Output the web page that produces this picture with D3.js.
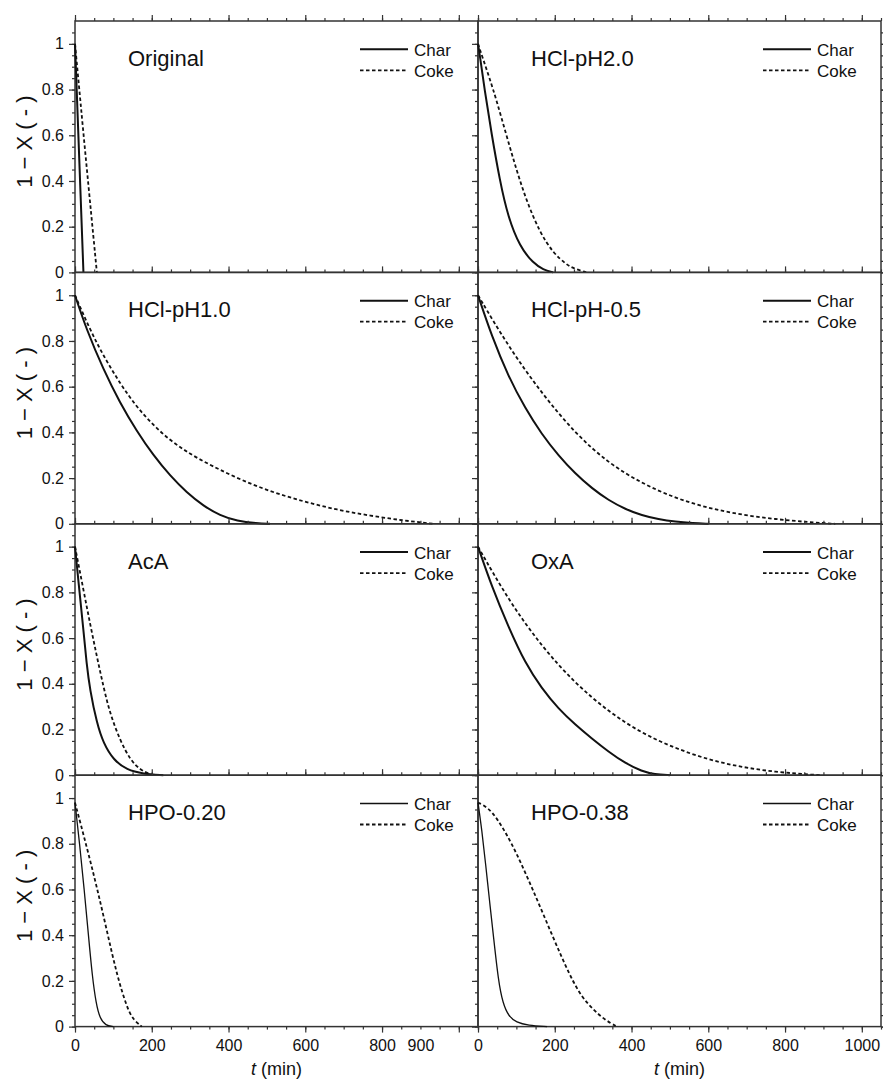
<!DOCTYPE html>
<html>
<head>
<meta charset="utf-8">
<script src="https://cdn.jsdelivr.net/npm/d3@7"></script>
<style>
  body { margin: 0; background: #fff; }
  svg { font-family: "Liberation Sans", Arial, sans-serif; }
</style>
</head>
<body>
<script>
// panel titles, row by row (left, right)
const panelNames = ["Original", "HCl-pH2.0", "HCl-pH1.0", "HCl-pH-0.5", "AcA", "OxA", "HPO-0.20", "HPO-0.38"]
const seriesNames = ["Char", "Coke"]

// [t (min), 1 - X]
const originalChar = [[0, 1], [11, 0.5], [22, 0]]
const originalCoke = [[0, 1], [28, 0.5], [57, 0]]

const ph20Char = [[0, 1], [4, 0.96], [17, 0.8], [35, 0.61], [57, 0.40], [78, 0.244], [109, 0.112], [144, 0.04], [170, 0.012], [196, 0]]
const ph20Coke = [[0, 1], [13, 0.935], [30, 0.85], [48, 0.755], [74, 0.6], [100, 0.45], [126, 0.315], [161, 0.175], [196, 0.085], [230, 0.035], [248, 0.018], [283, 0]]

const ph10Char = [[0, 1], [30, 0.85], [74, 0.675], [117, 0.53], [161, 0.405], [204, 0.3], [248, 0.21], [291, 0.137], [335, 0.078], [378, 0.036], [422, 0.012], [474, 0.002], [508, 0]]
const ph10Coke = [[0, 1], [39, 0.85], [74, 0.735], [117, 0.615], [161, 0.51], [205, 0.43], [248, 0.365], [291, 0.315], [335, 0.272], [422, 0.199], [509, 0.141], [596, 0.097], [683, 0.061], [770, 0.035], [857, 0.014], [935, 0]]

const phm05Char = [[0, 1], [36, 0.82], [79, 0.645], [123, 0.505], [166, 0.392], [210, 0.298], [253, 0.22], [297, 0.155], [340, 0.103], [384, 0.064], [427, 0.037], [470, 0.02], [514, 0.009], [560, 0.003], [601, 0]]
const phm05Coke = [[0, 1], [79, 0.776], [166, 0.571], [253, 0.396], [340, 0.265], [427, 0.177], [514, 0.112], [601, 0.068], [688, 0.039], [775, 0.020], [862, 0.007], [931, 0]]

const acaChar = [[0, 1], [13, 0.781], [22, 0.636], [30, 0.49], [39, 0.373], [57, 0.227], [74, 0.140], [100, 0.067], [135, 0.023], [178, 0.006], [230, 0]]
const acaCoke = [[0, 1], [22, 0.811], [39, 0.665], [57, 0.519], [74, 0.388], [91, 0.271], [117, 0.154], [144, 0.067], [170, 0.023], [196, 0.004], [204, 0]]

const oxaChar = [[0, 1], [36, 0.825], [79, 0.65], [123, 0.49], [166, 0.38], [210, 0.29], [253, 0.222], [297, 0.16], [340, 0.103], [384, 0.052], [427, 0.017], [460, 0.004], [500, 0]]
const oxaCoke = [[0, 1], [79, 0.767], [166, 0.563], [253, 0.402], [340, 0.278], [427, 0.183], [514, 0.118], [601, 0.067], [688, 0.035], [775, 0.014], [862, 0.003], [896, 0]]

const hpo20Char = [[0, 0.98], [12, 0.8], [24, 0.6], [35, 0.4], [45, 0.22], [55, 0.1], [65, 0.035], [80, 0.004], [100, 0]]
const hpo20Coke = [[0, 0.98], [30, 0.79], [57, 0.61], [83, 0.42], [110, 0.22], [136, 0.08], [152, 0.03], [174, 0]]

const hpo38Char = [[0, 0.98], [10, 0.86], [20, 0.71], [30, 0.55], [40, 0.4], [53, 0.2], [65, 0.1], [80, 0.045], [100, 0.018], [130, 0.005], [180, 0]]
const hpo38Coke = [[0, 0.98], [25, 0.96], [50, 0.91], [75, 0.84], [100, 0.76], [143, 0.6], [193, 0.4], [240, 0.22], [270, 0.13], [300, 0.075], [330, 0.03], [362, 0]]

const charData = [originalChar, ph20Char, ph10Char, phm05Char, acaChar, oxaChar, hpo20Char, hpo38Char]
const cokeData = [originalCoke, ph20Coke, ph10Coke, phm05Coke, acaCoke, oxaCoke, hpo20Coke, hpo38Coke]

// tick labels
const yTickLabels = [0, 0.2, 0.4, 0.6, 0.8, 1]
const xTickLabelsLeft = [0, 200, 400, 600, 800, 900]
const xTickLabelsRight = [0, 200, 400, 600, 800, 1000]

const width = 883, height = 1082
let colX = [75, 478],
    plotW = 403,
    top0 = 21,
    rowH = 251.4;

let svg = d3.select("body")
    .append("svg")
    .attr("width", width)
    .attr("height", height)

let yMinor = d3.range(0, 1.1, 0.05).map(d => +d.toFixed(2))
let xMinor = d3.range(0, 1051, 50)
let xMajor = d3.range(0, 1001, 200)

let line = d3.line().curve(d3.curveBasis)

function styleAxis(g) {
    g.select(".domain").remove()
    g.selectAll(".tick line").attr("stroke", "#333").attr("stroke-width", 1.2)
    g.selectAll(".tick text").attr("fill", "#111").attr("font-size", 16)
}

panelNames.forEach((name, i) => {
    let col = i % 2, row = Math.floor(i / 2)
    let left = colX[col], top = top0 + row * rowH, bottom = top + rowH

    let x = d3.scaleLinear().domain([0, 1050]).range([left, left + plotW])
    let y = d3.scaleLinear().domain([0, 1.1]).range([bottom, top])

    let g = svg.append("g")

    // left axis
    g.append("g").attr("transform", `translate(${left},0)`)
        .call(d3.axisLeft(y).tickValues(yMinor).tickSize(3).tickFormat(""))
        .call(styleAxis)
    g.append("g").attr("transform", `translate(${left},0)`)
        .call(d3.axisLeft(y).tickValues(yTickLabels).tickSize(6).tickPadding(5)
            .tickFormat(col == 0 ? d3.format("~g") : ""))
        .call(styleAxis)

    // right axis only on the right column
    if (col == 1) {
        g.append("g").attr("transform", `translate(${left + plotW},0)`)
            .call(d3.axisRight(y).tickValues(yMinor).tickSize(3).tickFormat(""))
            .call(styleAxis)
        g.append("g").attr("transform", `translate(${left + plotW},0)`)
            .call(d3.axisRight(y).tickValues(yTickLabels).tickSize(6).tickFormat(""))
            .call(styleAxis)
    }

    // top ticks, pointing up
    g.append("g").attr("transform", `translate(0,${top})`)
        .call(d3.axisTop(x).tickValues(xMinor).tickSize(3).tickFormat(""))
        .call(styleAxis)
    g.append("g").attr("transform", `translate(0,${top})`)
        .call(d3.axisTop(x).tickValues(xMajor).tickSize(6).tickFormat(""))
        .call(styleAxis)

    // bottom row gets the labelled axis
    if (row == 3) {
        g.append("g").attr("transform", `translate(0,${bottom})`)
            .call(d3.axisBottom(x).tickValues(xMinor).tickSize(3).tickFormat(""))
            .call(styleAxis)
        g.append("g").attr("transform", `translate(0,${bottom})`)
            .call(d3.axisBottom(x).tickValues(xMajor).tickSize(6).tickFormat(""))
            .call(styleAxis)
        g.append("g").attr("transform", `translate(0,${bottom})`)
            .call(d3.axisBottom(x).tickValues(col == 0 ? xTickLabelsLeft : xTickLabelsRight)
                .tickSize(0).tickPadding(13).tickFormat(d3.format("d")))
            .call(styleAxis)

        let xt = g.append("text")
            .attr("x", left + plotW / 2)
            .attr("y", 1075)
            .attr("text-anchor", "middle")
            .attr("font-size", 18)
            .attr("fill", "#111")
        xt.append("tspan").attr("font-style", "italic").text("t")
        xt.append("tspan").text(" (min)")
    }

    // frame
    g.append("rect")
        .attr("x", left).attr("y", top)
        .attr("width", plotW).attr("height", rowH)
        .attr("fill", "none")
        .attr("stroke", "#333")
        .attr("stroke-width", 1.5)

    // curves
    let charW = row == 3 ? 1.3 : 2
    g.append("path")
        .attr("d", line(charData[i].map(d => [x(d[0]), y(d[1])])))
        .attr("fill", "none")
        .attr("stroke", "#111")
        .attr("stroke-width", charW)
    g.append("path")
        .attr("d", line(cokeData[i].map(d => [x(d[0]), y(d[1])])))
        .attr("fill", "none")
        .attr("stroke", "#111")
        .attr("stroke-width", 1.8)
        .attr("stroke-dasharray", "3.5,2.5")

    // panel name
    g.append("text")
        .attr("x", left + 53)
        .attr("y", top + 44.7)
        .attr("font-size", 22)
        .attr("fill", "#111")
        .text(name)

    // legend
    seriesNames.forEach((s, k) => {
        let ly = top + 28.3 + k * 21
        g.append("line")
            .attr("x1", left + 285).attr("x2", left + 333)
            .attr("y1", ly).attr("y2", ly)
            .attr("stroke", "#111")
            .attr("stroke-width", k == 0 ? charW : 1.8)
            .attr("stroke-dasharray", k == 0 ? null : "3.5,2.5")
        g.append("text")
            .attr("x", left + 339)
            .attr("y", ly + 6.5)
            .attr("font-size", 17)
            .attr("fill", "#111")
            .text(s)
    })

    // y title on the left column
    if (col == 0) {
        g.append("text")
            .attr("transform", `translate(32,${top + rowH / 2 - 5}) rotate(-90)`)
            .attr("text-anchor", "middle")
            .attr("font-size", 22)
            .attr("fill", "#111")
            .text("1 \u2212 X ( - )")
    }
})
</script>
</body>
</html>
